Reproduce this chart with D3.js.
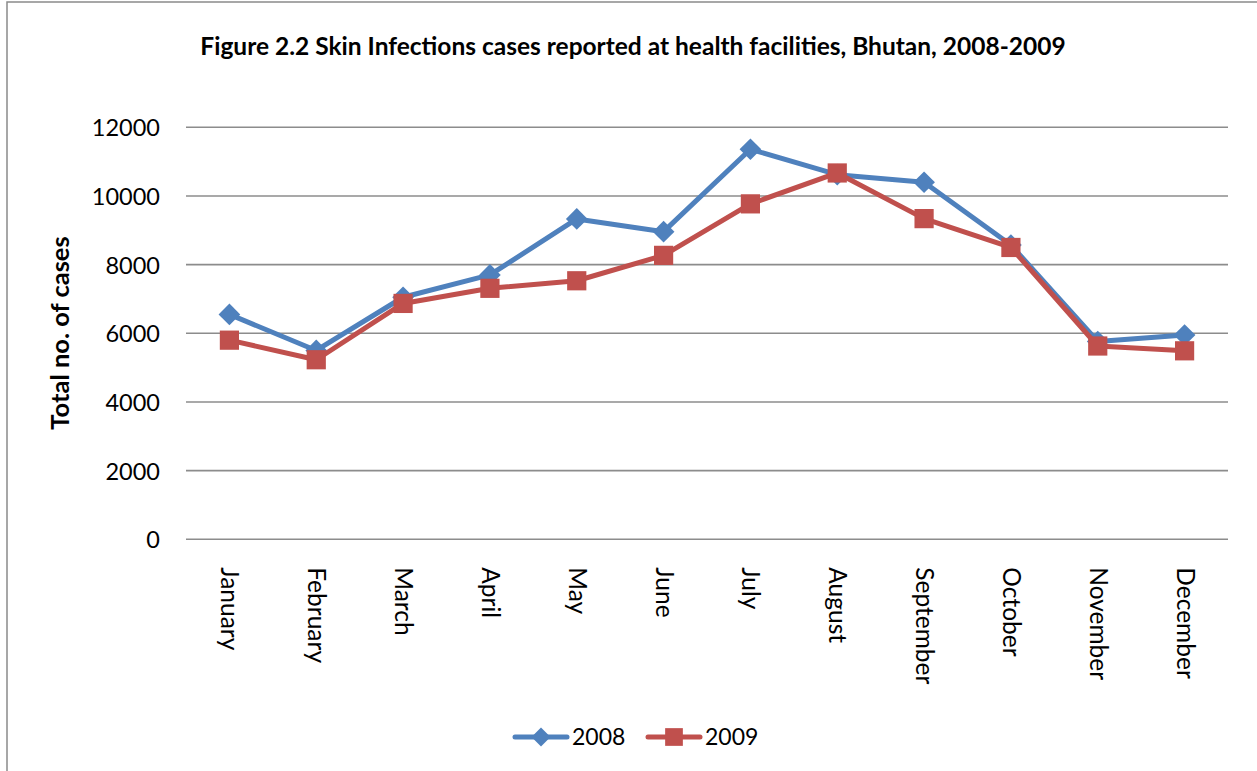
<!DOCTYPE html>
<html>
<head>
<meta charset="utf-8">
<script src="https://cdn.jsdelivr.net/npm/d3@7"></script>
<style>
  html, body { margin: 0; padding: 0; background: #fff; }
  svg { display: block; }
  text { font-family: Lato, "Open Sans", "DejaVu Sans", sans-serif; fill: #000; }
</style>
</head>
<body>
<svg id="chart" width="1257" height="771"></svg>
<script>
// Monthly skin infection cases, Bhutan
const months = ["January", "February", "March", "April", "May", "June",
                "July", "August", "September", "October", "November", "December"];
const cases2008 = [6550, 5500, 7050, 7700, 9330, 8960, 11360, 10620, 10400, 8570, 5760, 5950];
const cases2009 = [5800, 5230, 6870, 7310, 7530, 8270, 9770, 10670, 9340, 8500, 5630, 5490];
const yTicks = [0, 2000, 4000, 6000, 8000, 10000, 12000];
const seriesNames = ["2008", "2009"];

const titleText = "Figure 2.2 Skin Infections cases reported at health facilities, Bhutan, 2008-2009";
const yTitle = "Total no. of cases";

const blue = "#4F81BD", red = "#C0504D", grid = "#8c8c8c";

const svg = d3.select("#chart");

// outer chart frame
svg.append("rect")
  .attr("x", 7).attr("y", 2).attr("width", 1260).attr("height", 800)
  .attr("fill", "none").attr("stroke", "#8a8a8a").attr("stroke-width", 1.5);

const plot = { left: 186, right: 1228, top: 127.3, bottom: 539.3 };

const x = d3.scalePoint().domain(months).range([plot.left, plot.right]).padding(0.5);
const y = d3.scaleLinear().domain([0, 12000]).range([plot.bottom, plot.top]);

// horizontal gridlines
svg.append("g").selectAll("line").data(yTicks).join("line")
  .attr("x1", plot.left).attr("x2", plot.right)
  .attr("y1", d => y(d)).attr("y2", d => y(d))
  .attr("stroke", grid).attr("stroke-width", 1.6);

// y axis tick labels
const yAxis = d3.axisLeft(y).tickValues(yTicks).tickSize(0).tickPadding(0).tickFormat(d3.format("d"));
const gy = svg.append("g").attr("transform", `translate(160,0)`).call(yAxis);
gy.select(".domain").remove();
gy.selectAll("text")
  .style("font-family", "Lato, 'Open Sans', sans-serif")
  .style("font-size", "23.5px").attr("fill", "#000").attr("dy", "0.36em");

// x axis category labels, rotated to read downward
const xAxis = d3.axisBottom(x).tickSize(0).tickPadding(0);
const gx = svg.append("g").attr("transform", `translate(0,${plot.bottom})`).call(xAxis);
gx.select(".domain").remove();
gx.selectAll("text")
  .style("font-family", "Lato, 'Open Sans', sans-serif")
  .style("font-size", "24.5px").attr("fill", "#000")
  .attr("text-anchor", "start")
  .attr("dy", "0.35em")
  .attr("transform", "translate(0,28) rotate(90)")
  .attr("x", 0).attr("y", 0);

// titles
svg.append("text")
  .attr("x", 633).attr("y", 55)
  .attr("text-anchor", "middle")
  .style("font-size", "24.5px").style("font-weight", "bold")
  .text(titleText);

svg.append("text")
  .attr("transform", "translate(69,333) rotate(-90)")
  .attr("text-anchor", "middle")
  .style("font-size", "25.5px").style("font-weight", "bold")
  .text(yTitle);

// series
const series = [
  { name: seriesNames[0], values: cases2008, color: blue, marker: d3.symbolDiamond2, size: 300, legendSize: 230 },
  { name: seriesNames[1], values: cases2009, color: red, marker: d3.symbolSquare2, size: 470, legendSize: 400 }
];

const line = d3.line().x((d, i) => x(months[i])).y(d => y(d));

series.forEach(s => {
  const g = svg.append("g");
  g.append("path")
    .datum(s.values)
    .attr("d", line)
    .attr("fill", "none").attr("stroke", s.color)
    .attr("stroke-width", 5).attr("stroke-linejoin", "round").attr("stroke-linecap", "round");
  g.selectAll("path.m").data(s.values).join("path")
    .attr("class", "m")
    .attr("transform", (d, i) => `translate(${x(months[i])},${y(d)})`)
    .attr("d", d3.symbol(s.marker, s.size))
    .attr("fill", s.color);
});

// legend
const legendItems = [
  { s: series[0], x0: 515 },
  { s: series[1], x0: 648 }
];
const ly = 737;
legendItems.forEach(({ s, x0 }) => {
  const g = svg.append("g");
  g.append("line")
    .attr("x1", x0).attr("x2", x0 + 52).attr("y1", ly).attr("y2", ly)
    .attr("stroke", s.color).attr("stroke-width", 5).attr("stroke-linecap", "round");
  g.append("path")
    .attr("transform", `translate(${x0 + 26},${ly})`)
    .attr("d", d3.symbol(s.marker, s.legendSize))
    .attr("fill", s.color);
  g.append("text")
    .attr("x", x0 + 57).attr("y", ly).attr("dy", "0.36em")
    .style("font-size", "23px")
    .text(s.name);
});
</script>
</body>
</html>
